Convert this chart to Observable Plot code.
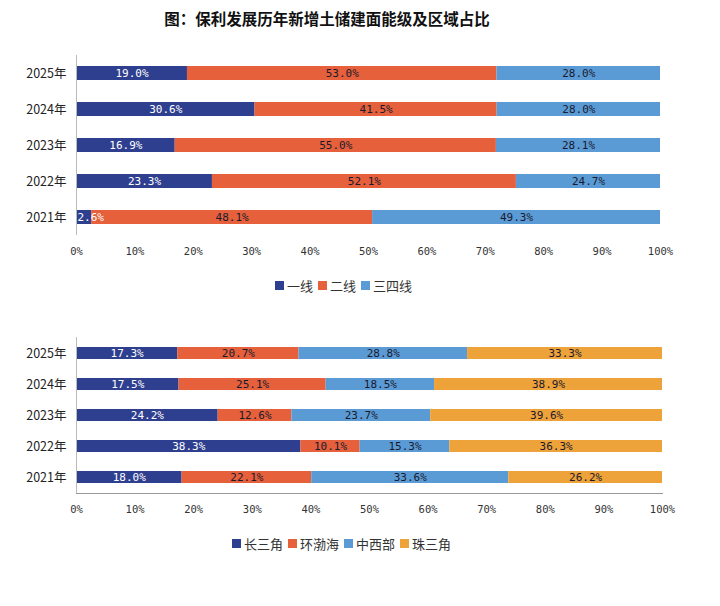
<!DOCTYPE html>
<html>
<head>
<meta charset="utf-8">
<script src="https://cdn.jsdelivr.net/npm/d3@7"></script>
<script src="https://cdn.jsdelivr.net/npm/@observablehq/plot@0.6"></script>
<style>
  body { margin: 0; background: #fff; width: 720px; height: 606px; position: relative; overflow: hidden; }
  .abs { position: absolute; }
  #title { top: 7px; left: 127px; width: 400px; text-align: center; font: bold 15.5px "Noto Sans CJK SC", sans-serif; color: #111; z-index: 2; }
  .legend { display: flex; gap: 5px; align-items: center; font: 13px "Noto Sans CJK SC", sans-serif; color: #333; white-space: nowrap; z-index: 2; }
  .legend .sw { display: inline-block; width: 9px; height: 9px; margin-right: 3px; }
  .legend .it { display: inline-flex; align-items: center; }
</style>
</head>
<body>
<div id="c1" class="abs" style="top:0;left:0"></div>
<div id="c2" class="abs" style="top:300px;left:0"></div>
<div id="title" class="abs">图：保利发展历年新增土储建面能级及区域占比</div>
<div id="l1" class="abs legend" style="top:276px;left:275px"></div>
<div id="l2" class="abs legend" style="top:534px;left:232px"></div>
<script>
const years = ["2025年", "2024年", "2023年", "2022年", "2021年"];

const tierNames = ["一线", "二线", "三四线"];
const tier1 = [19.0, 30.6, 16.9, 23.3, 2.6];
const tier2 = [53.0, 41.5, 55.0, 52.1, 48.1];
const tier34 = [28.0, 28.0, 28.1, 24.7, 49.3];
const tierColors = ["#2f3f8f", "#e5603b", "#5b9bd5"];

const regionNames = ["长三角", "环渤海", "中西部", "珠三角"];
const csj = [17.3, 17.5, 24.2, 38.3, 18.0];
const hbh = [20.7, 25.1, 12.6, 10.1, 22.1];
const zxb = [28.8, 18.5, 23.7, 15.3, 33.6];
const zsj = [33.3, 38.9, 39.6, 36.3, 26.2];
const regionColors = ["#2f3f8f", "#e5603b", "#5b9bd5", "#eea23a"];

const xTicks = [0, 0.1, 0.2, 0.3, 0.4, 0.5, 0.6, 0.7, 0.8, 0.9, 1];
const MONO = "'DejaVu Sans Mono', monospace";

function toRows(names, arrays) {
  const rows = [];
  names.forEach((n, i) => arrays[i].forEach((v, j) => rows.push({ year: years[j], series: n, value: v })));
  return rows;
}

function chart(rows, names, colors, { height, marginTop, marginBottom, marginRight, bottomLine }) {
  const first = names[0];
  const small = d => d.series === first && d.value < 8;
  const fmt = d => d.value.toFixed(1) + "%";
  const st = (extra) => Plot.stackX({ x: "value", y: "year", z: "series", offset: "normalize", ...extra });
  const st1 = (extra) => Plot.stackX1({ x: "value", y: "year", z: "series", offset: "normalize", ...extra });
  const txt = { fontSize: 11, fontFamily: MONO };
  return Plot.plot({
    width: 720,
    height,
    marginLeft: 76,
    marginRight,
    marginTop,
    marginBottom,
    style: { fontFamily: MONO, background: "transparent" },
    x: { domain: [0, 1], axis: null },
    y: { domain: years, paddingInner: 0.6, paddingOuter: 0.3, axis: null },
    color: { domain: names, range: colors },
    marks: [
      Plot.barX(rows, st({ fill: "series" })),
      Plot.text(rows, st({ text: d => d.series === first && !small(d) ? fmt(d) : "", fill: "white", ...txt })),
      Plot.text(rows, st1({ text: d => small(d) ? fmt(d) : "", fill: "white", textAnchor: "start", dx: 1, ...txt })),
      Plot.text(rows, st({ text: d => d.series !== first ? fmt(d) : "", fill: "#1a1a2e", ...txt })),
      Plot.ruleX([0], { stroke: "#bbb", strokeWidth: 1 }),
      ...(bottomLine ? [Plot.frame({ anchor: "bottom", stroke: "#999" })] : []),
      Plot.axisX({ ticks: xTicks, tickFormat: d3.format(".0%"), tickSize: 0, tickPadding: 12, label: null, fontSize: 10.5, fill: "#333", fontFamily: MONO }),
      Plot.axisY({ tickSize: 0, tickPadding: 10, label: null, fontSize: 12.5, fill: "#222", fontFamily: "'Noto Sans CJK SC', sans-serif" })
    ]
  });
}

function legend(el, names, colors) {
  names.forEach((n, i) => {
    const it = document.createElement("span");
    it.className = "it";
    it.innerHTML = `<span class="sw" style="background:${colors[i]}"></span>${n}`;
    el.appendChild(it);
  });
}

document.getElementById("c1").appendChild(
  chart(toRows(tierNames, [tier1, tier2, tier34]), tierNames, tierColors,
    { height: 265, marginTop: 55, marginBottom: 30, marginRight: 60, bottomLine: false })
);
document.getElementById("c2").appendChild(
  chart(toRows(regionNames, [csj, hbh, zxb, zsj]), regionNames, regionColors,
    { height: 223, marginTop: 37, marginBottom: 30, marginRight: 58, bottomLine: true })
);
legend(document.getElementById("l1"), tierNames, tierColors);
legend(document.getElementById("l2"), regionNames, regionColors);
</script>
</body>
</html>
